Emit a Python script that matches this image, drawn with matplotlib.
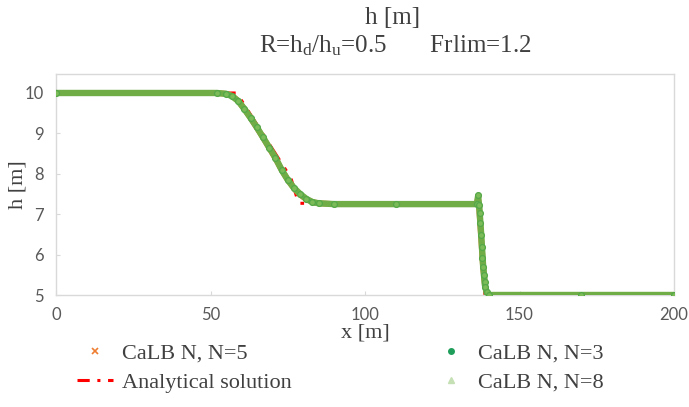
import numpy as np
import matplotlib
matplotlib.use('Agg')
import matplotlib.pyplot as plt
from matplotlib.lines import Line2D

plt.rcParams['mathtext.fontset'] = 'custom'
plt.rcParams['mathtext.rm'] = 'Liberation Serif'
plt.rcParams['mathtext.it'] = 'Liberation Serif:italic'

# analytical dam-break profile
x_an = [0, 58.5, 61, 63.5, 66, 68.5, 71, 73.5, 76, 78.5, 136.9, 137.6, 138.2, 138.8, 200]
h_an = [10, 10, 9.7, 9.4, 9.1, 8.8, 8.5, 8.2, 7.9, 7.27, 7.25, 6.6, 5.8, 5.0, 5.0]

# CaLB N, N=3
x_n3 = [0, 52, 55, 57, 59, 61, 63, 65, 67, 69, 71, 73, 75, 77, 79, 81, 83, 85, 90,
        110, 136.2, 136.7, 136.9, 137.2, 137.3, 137.7, 137.8, 137.9, 138.3, 138.4,
        138.8, 138.9, 139.4, 140, 170, 200]
h_n3 = [10, 10, 9.98, 9.92, 9.8, 9.6, 9.38, 9.15, 8.9, 8.65, 8.4, 8.1, 7.85, 7.65,
        7.5, 7.38, 7.3, 7.27, 7.25, 7.25, 7.26, 7.47, 7.23, 7.02, 6.77, 6.49, 6.2,
        5.91, 5.7, 5.5, 5.33, 5.21, 5.08, 5.0, 5.0, 5.0]

# CaLB N, N=5
x_n5 = [0, 52, 55, 57, 59, 61, 63, 65, 67, 69, 71, 73, 75, 77, 79, 81, 83, 85, 90,
        136.2, 136.6, 137.0, 137.6, 138.2, 138.8, 139.4, 140, 200]
h_n5 = [10, 10, 9.98, 9.93, 9.8, 9.6, 9.38, 9.14, 8.9, 8.64, 8.38, 8.1, 7.85, 7.64,
        7.48, 7.37, 7.3, 7.27, 7.25, 7.25, 7.42, 7.1, 6.4, 5.7, 5.25, 5.05, 5.0, 5.0]

# CaLB N, N=8
x_n8 = [0, 52, 55, 57, 59, 61, 63, 65, 67, 69, 71, 73, 75, 77, 79, 81, 83, 85, 90,
        136.2, 136.6, 137.0, 137.6, 138.2, 138.8, 139.4, 140, 200]
h_n8 = [10, 10, 9.98, 9.92, 9.8, 9.6, 9.38, 9.15, 8.9, 8.65, 8.4, 8.1, 7.85, 7.65,
        7.5, 7.38, 7.3, 7.27, 7.25, 7.25, 7.44, 7.15, 6.5, 5.75, 5.25, 5.05, 5.0, 5.0]

xticks = [0, 50, 100, 150, 200]
yticks = [5, 6, 7, 8, 9, 10]

serif = 'Liberation Serif'
grey = '#595959'
dark = '#404040'
frame = '#d9d9d9'

fig = plt.figure(figsize=(6.89, 4.07), dpi=100)
ax = fig.add_axes([56 / 689, 1 - 295 / 407, 618 / 689, 221 / 407])

ax.plot(x_an, h_an, color='#ff0000', lw=2.2, ls=(0, (6, 3, 1.2, 3)), zorder=2)
ax.plot(x_n5, h_n5, color='#ed7d31', lw=4.2, zorder=3)
ax.plot(x_n8, h_n8, color='#70ad47', lw=4.6, zorder=4)
ax.plot(x_n3, h_n3, lw=0, marker='o', ms=4.2,
        mfc='#7cbb58', mec='#55a848', mew=0.9, zorder=5)

ax.set_xlim(0, 200)
ax.set_ylim(5, 10.47)
ax.set_xticks(xticks)
ax.set_yticks(yticks)
for s in ax.spines.values():
    s.set_color(frame)
    s.set_linewidth(1.0)
ax.tick_params(axis='both', direction='in', length=3, color=frame,
               labelcolor=grey, labelsize=12, pad=9)
for lab in ax.get_xticklabels() + ax.get_yticklabels():
    lab.set_fontfamily('Lato')

ax.set_xlabel('x [m]', family=serif, fontsize=16, color=dark, labelpad=0)
ax.set_ylabel('h [m]', family=serif, fontsize=16, color=dark)
ax.yaxis.set_label_coords(-0.046, 0.5)

fig.text(393 / 689, 1 - 18 / 407, 'h [m]', family=serif, fontsize=18,
         color=dark, ha='center', va='center')
fig.text(395 / 689, 1 - 46 / 407,
         r'R=h$_{\mathrm{d}}$/h$_{\mathrm{u}}$=0.5       Frlim=1.2',
         family=serif, fontsize=18, color=dark, ha='center', va='center')

handles = [
    Line2D([], [], ls='none', marker='x', ms=4, mew=1.2, color='#ed7d31'),
    Line2D([], [], color='#ff0000', lw=2.2, ls=(0, (4, 2.5, 1, 2.5))),
    Line2D([], [], ls='none', marker='o', ms=4, color='#1f9e5a'),
    Line2D([], [], ls='none', marker='^', ms=5, color='#c5e0b4'),
]
labels = ['CaLB N, N=5', 'Analytical solution', 'CaLB N, N=3', 'CaLB N, N=8']
fig.legend(handles, labels, ncol=2, loc='center', bbox_to_anchor=(0.494, 1 - 368 / 407),
           frameon=False, prop={'family': serif, 'size': 16}, labelcolor=dark,
           columnspacing=6.4, handlelength=1.6, handletextpad=0.4, labelspacing=0.38)

fig.savefig('out.png', dpi=100)
